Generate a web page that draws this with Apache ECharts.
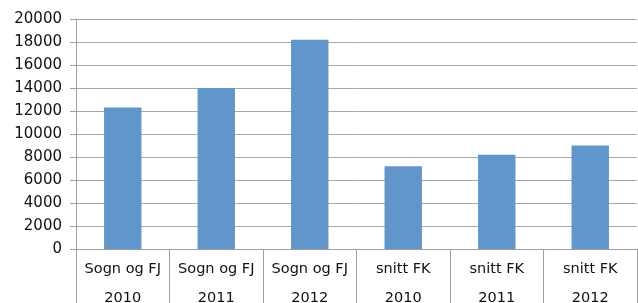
<!DOCTYPE html>
<html>
<head>
<meta charset="utf-8">
<script src="https://cdn.jsdelivr.net/npm/echarts@6/dist/echarts.min.js"></script>
<style>
  html, body { margin: 0; padding: 0; background: #fff; }
  #chart { width: 638px; height: 303px; }
</style>
</head>
<body>
<div id="chart"></div>
<script>
// data
var categories = ['Sogn og FJ\n2010', 'Sogn og FJ\n2011', 'Sogn og FJ\n2012',
                  'snitt FK\n2010', 'snitt FK\n2011', 'snitt FK\n2012'];
var values = [12300, 14000, 18200, 7200, 8200, 9000];
var yTicks = { min: 0, max: 20000, interval: 2000 };

var myChart = echarts.init(document.getElementById('chart'));
myChart.setOption({
    animation: false,
    grid: { left: 76, right: 1, top: 19, bottom: 54, outerBoundsMode: 'none', containLabel: false },
    xAxis: {
        type: 'category',
        data: categories,
        axisLine: { lineStyle: { color: '#a0a0a0', width: 1 } },
        axisTick: { show: true, length: 60, interval: 0, alignWithLabel: false,
                    lineStyle: { color: '#a0a0a0' } },
        axisLabel: { interval: 0, color: '#111', fontFamily: 'DejaVu Sans',
                     fontSize: 14.5, lineHeight: 29, margin: 6 }
    },
    yAxis: {
        type: 'value',
        min: yTicks.min, max: yTicks.max, interval: yTicks.interval,
        axisLine: { show: true, lineStyle: { color: '#a0a0a0' } },
        axisTick: { show: true, length: 6, lineStyle: { color: '#a0a0a0' } },
        splitLine: { lineStyle: { color: '#a8a8a8', width: 1 } },
        axisLabel: { color: '#111', fontFamily: 'DejaVu Sans', fontSize: 15, margin: 14,
                     formatter: function (v) { return String(v); } }
    },
    series: [{
        type: 'bar',
        data: values,
        barWidth: '40%',
        itemStyle: { color: '#6096cc' }
    }]
});
</script>
</body>
</html>
